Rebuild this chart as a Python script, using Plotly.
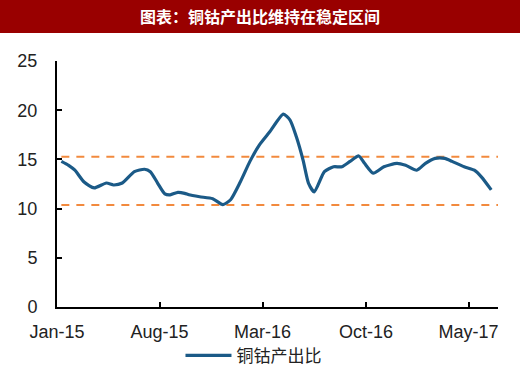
import plotly.graph_objects as go

# ---- data ----
dates = ["2015-01-10", "2015-01-25", "2015-02-07", "2015-02-26", "2015-03-19", "2015-04-13",
         "2015-04-28", "2015-05-16", "2015-06-10", "2015-07-01", "2015-07-13", "2015-07-28",
         "2015-08-12", "2015-08-23", "2015-09-08", "2015-09-22", "2015-10-01", "2015-10-23",
         "2015-11-19", "2015-12-10", "2015-12-26", "2016-01-15", "2016-02-04", "2016-02-24",
         "2016-03-16", "2016-04-13", "2016-04-27", "2016-05-10", "2016-05-24", "2016-06-04",
         "2016-06-16", "2016-07-07", "2016-07-26", "2016-08-12", "2016-08-29", "2016-09-16",
         "2016-09-28", "2016-10-16", "2016-11-07", "2016-12-04", "2016-12-22", "2017-01-14",
         "2017-02-01", "2017-02-21", "2017-03-13", "2017-03-28", "2017-04-22", "2017-05-13",
         "2017-05-28", "2017-06-17"]
ratio = [14.8, 14.4, 13.9, 12.7, 12.1, 12.6,
         12.4, 12.6, 13.75, 14.0, 13.75, 12.6,
         11.5, 11.4, 11.65, 11.55, 11.4, 11.2,
         11.0, 10.4, 10.9, 12.7, 14.8, 16.5,
         17.8, 19.6, 19.0, 17.3, 14.9, 12.6,
         11.7, 13.75, 14.25, 14.25, 14.8, 15.35,
         14.6, 13.6, 14.25, 14.6, 14.4, 13.9,
         14.6, 15.1, 15.1, 14.8, 14.25, 13.9,
         13.2, 11.9]
band_dates = ["2015-01-10", "2017-07-01"]
upper_band = [15.27, 15.27]
lower_band = [10.37, 10.37]
tick_dates = ["2015-01-01", "2015-08-01", "2016-03-01", "2016-10-01", "2017-05-01"]
tick_labels = ["Jan-15", "Aug-15", "Mar-16", "Oct-16", "May-17"]
series_name = "铜钴产出比"
title_text = "图表：铜钴产出比维持在稳定区间"

BLUE = "#1B5A87"
ORANGE = "#F28A3E"

fig = go.Figure()
for yv in (upper_band, lower_band):
    fig.add_trace(go.Scatter(x=band_dates, y=yv, mode="lines", showlegend=False,
                             hoverinfo="skip",
                             line=dict(color=ORANGE, width=2, dash="8px,7px")))
fig.add_trace(go.Scatter(x=dates, y=ratio, mode="lines", name=series_name,
                         line=dict(color=BLUE, width=3.2, shape="spline", smoothing=0.6)))

axis_font = dict(family="Liberation Sans, Arial, sans-serif", size=18, color="#222222")
fig.update_layout(
    width=520, height=372,
    margin=dict(l=57, r=22, t=61, b=65, autoexpand=False),
    paper_bgcolor="white", plot_bgcolor="white",
    showlegend=True,
    legend=dict(orientation="h", x=0.28, xanchor="left", y=-0.125, yanchor="top",
                font=dict(family="Noto Sans CJK SC, sans-serif", size=17, color="#222222"),
                itemwidth=46, bgcolor="rgba(0,0,0,0)"),
    xaxis=dict(type="date", range=["2015-01-01", "2017-07-01"], automargin=False,
               tickmode="array", tickvals=tick_dates, ticktext=tick_labels,
               showgrid=False, zeroline=False, showline=True, linecolor="black", linewidth=2,
               ticks="inside", ticklen=5, tickwidth=1.5, tickcolor="black",
               tickfont=axis_font, ticklabelstandoff=7),
    yaxis=dict(range=[0, 25], tickmode="array", tickvals=[0, 5, 10, 15, 20, 25], automargin=False,
               showgrid=False, zeroline=False, showline=True, linecolor="black", linewidth=2,
               ticks="inside", ticklen=5, tickwidth=1.5, tickcolor="black",
               tickfont=axis_font, ticklabelstandoff=14),
    shapes=[dict(type="rect", xref="paper", yref="paper",
                 x0=-57 / 441, x1=1 + 22 / 441, y0=1 + 28 / 246, y1=1 + 61 / 246,
                 fillcolor="#990000", line=dict(width=0), layer="above")],
    annotations=[dict(text="<b>" + title_text + "</b>", xref="paper", yref="paper",
                      x=(260 - 57) / 441, y=1 + 45 / 246, xanchor="center", yanchor="middle",
                      showarrow=False,
                      font=dict(family="Noto Sans CJK SC, sans-serif", size=16, color="white"))],
)

fig.write_html("out.html", config={"displayModeBar": False},
               post_script="document.body.style.margin='0';document.body.style.overflow='hidden';")
